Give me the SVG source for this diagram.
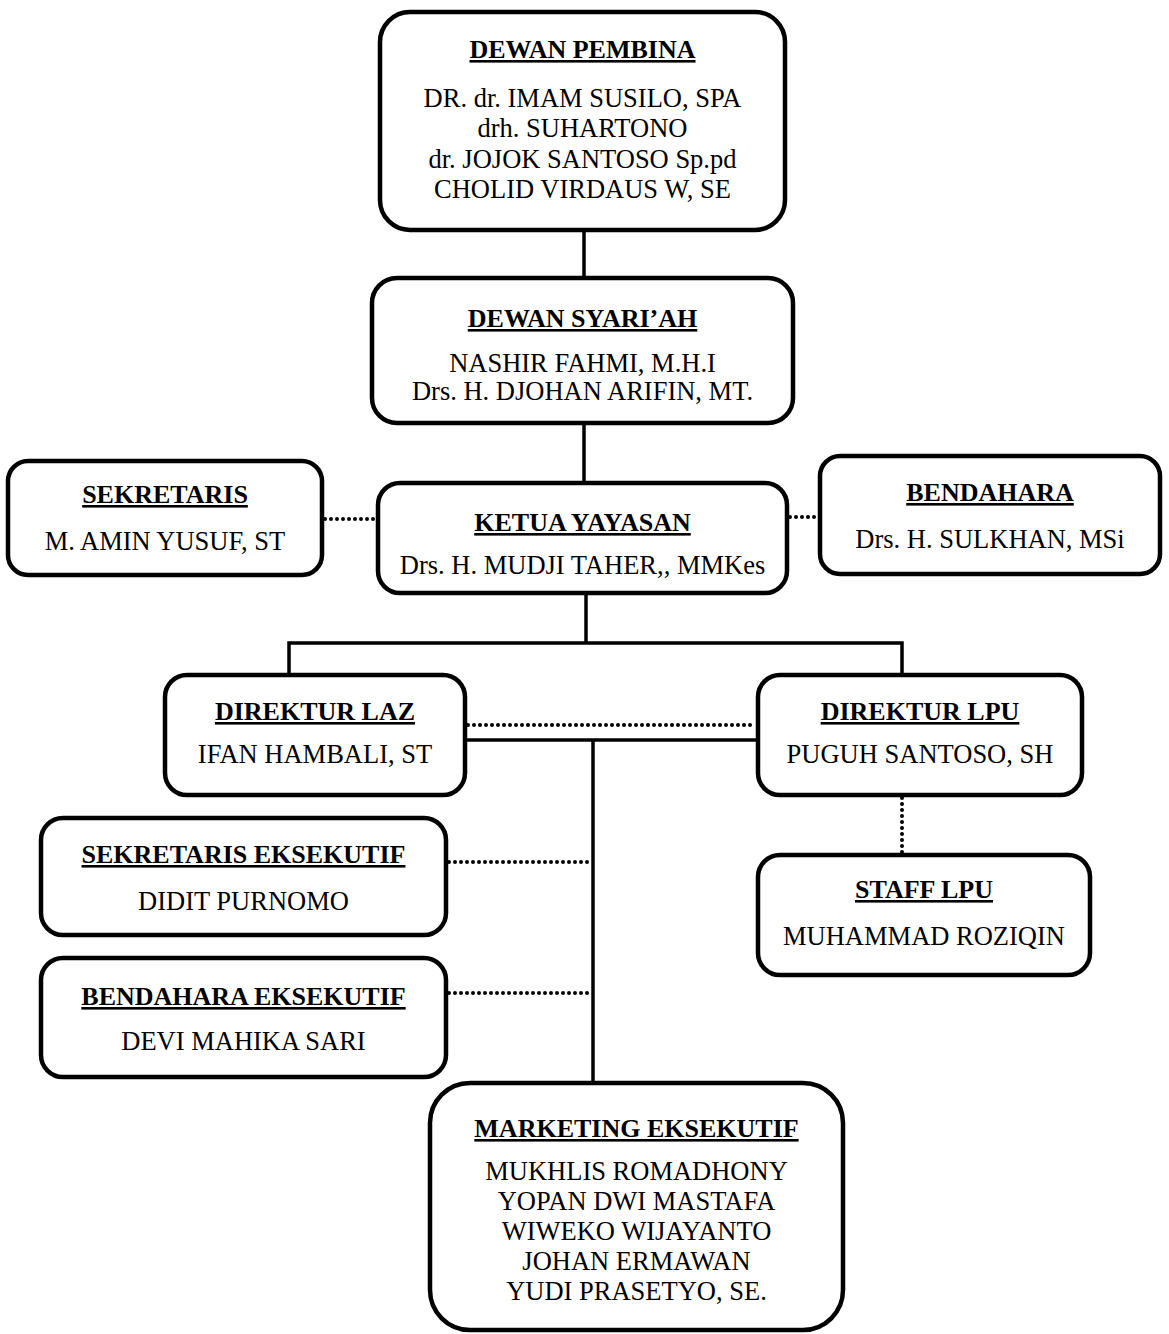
<svg xmlns="http://www.w3.org/2000/svg" width="1169" height="1334" viewBox="0 0 1169 1334">
<style>
.box{fill:#fff;stroke:#000;stroke-width:4.5}
.h{font-family:"Liberation Serif","Times New Roman",serif;font-weight:bold;font-size:26px;text-anchor:middle;text-decoration:underline;fill:#000}
.t{font-family:"Liberation Serif","Times New Roman",serif;font-size:26.5px;text-anchor:middle;fill:#000}
.solid{fill:none;stroke:#000;stroke-width:3.5}
.dot{fill:none;stroke:#000;stroke-width:4;stroke-linecap:round;stroke-dasharray:0 6}
</style>
<rect width="1169" height="1334" fill="#fff"/>
<g id="connectors">
<line class="solid" x1="584" y1="230" x2="584" y2="278"/>
<line class="solid" x1="584" y1="423" x2="584" y2="483"/>
<line class="dot" x1="325" y1="519" x2="376" y2="519"/>
<line class="dot" x1="790" y1="517" x2="818" y2="517"/>
<line class="solid" x1="586" y1="593" x2="586" y2="643"/>
<polyline class="solid" points="289,675 289,643 902,643 902,675"/>
<line class="dot" x1="468" y1="725" x2="756" y2="725"/>
<line class="solid" x1="465" y1="740" x2="758" y2="740"/>
<line class="solid" x1="593" y1="740" x2="593" y2="1083"/>
<line class="dot" x1="449" y1="862" x2="591" y2="862"/>
<line class="dot" x1="449" y1="993" x2="591" y2="993"/>
<line class="dot" x1="902" y1="798" x2="902" y2="853"/>
</g>
<g id="dewan-pembina">
<rect class="box" x="380" y="12" width="405" height="218" rx="30"/>
<text class="h" x="582.5" y="58">DEWAN PEMBINA</text>
<text class="t" x="582.5" y="107">DR. dr. IMAM SUSILO, SPA</text>
<text class="t" x="582.5" y="137">drh. SUHARTONO</text>
<text class="t" x="582.5" y="168">dr. JOJOK SANTOSO Sp.pd</text>
<text class="t" x="582.5" y="198">CHOLID VIRDAUS W, SE</text>
</g>
<g id="dewan-syariah">
<rect class="box" x="372" y="278" width="421" height="145" rx="25"/>
<text class="h" x="582.5" y="327">DEWAN SYARI’AH</text>
<text class="t" x="582.5" y="372">NASHIR FAHMI, M.H.I</text>
<text class="t" x="582.5" y="400">Drs. H. DJOHAN ARIFIN, MT.</text>
</g>
<g id="sekretaris">
<rect class="box" x="8" y="461" width="314" height="114" rx="20"/>
<text class="h" x="165" y="503">SEKRETARIS</text>
<text class="t" x="165" y="550">M. AMIN YUSUF, ST</text>
</g>
<g id="ketua-yayasan">
<rect class="box" x="378" y="483" width="409" height="110" rx="22"/>
<text class="h" x="582.5" y="531">KETUA YAYASAN</text>
<text class="t" x="582.5" y="574">Drs. H. MUDJI TAHER,, MMKes</text>
</g>
<g id="bendahara">
<rect class="box" x="820" y="456" width="340" height="118" rx="20"/>
<text class="h" x="990" y="501">BENDAHARA</text>
<text class="t" x="990" y="548">Drs. H. SULKHAN, MSi</text>
</g>
<g id="direktur-laz">
<rect class="box" x="165" y="675" width="300" height="120" rx="22"/>
<text class="h" x="315" y="720">DIREKTUR LAZ</text>
<text class="t" x="315" y="763">IFAN HAMBALI, ST</text>
</g>
<g id="direktur-lpu">
<rect class="box" x="758" y="675" width="324" height="120" rx="22"/>
<text class="h" x="920" y="720">DIREKTUR LPU</text>
<text class="t" x="920" y="763">PUGUH SANTOSO, SH</text>
</g>
<g id="sekretaris-eksekutif">
<rect class="box" x="41" y="818" width="405" height="117" rx="22"/>
<text class="h" x="243.5" y="863">SEKRETARIS EKSEKUTIF</text>
<text class="t" x="243.5" y="910">DIDIT PURNOMO</text>
</g>
<g id="bendahara-eksekutif">
<rect class="box" x="41" y="958" width="405" height="119" rx="22"/>
<text class="h" x="243.5" y="1005">BENDAHARA EKSEKUTIF</text>
<text class="t" x="243.5" y="1050">DEVI MAHIKA SARI</text>
</g>
<g id="staff-lpu">
<rect class="box" x="758" y="855" width="332" height="120" rx="22"/>
<text class="h" x="924" y="898">STAFF LPU</text>
<text class="t" x="924" y="945">MUHAMMAD ROZIQIN</text>
</g>
<g id="marketing-eksekutif">
<rect class="box" x="430" y="1083" width="413" height="247" rx="40"/>
<text class="h" x="636.5" y="1137">MARKETING EKSEKUTIF</text>
<text class="t" x="636.5" y="1180">MUKHLIS ROMADHONY</text>
<text class="t" x="636.5" y="1210">YOPAN DWI MASTAFA</text>
<text class="t" x="636.5" y="1240">WIWEKO WIJAYANTO</text>
<text class="t" x="636.5" y="1270">JOHAN ERMAWAN</text>
<text class="t" x="636.5" y="1300">YUDI PRASETYO, SE.</text>
</g>
</svg>
